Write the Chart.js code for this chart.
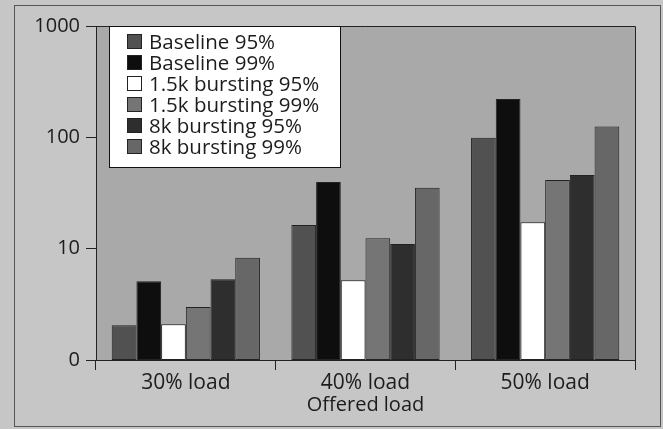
<!DOCTYPE html>
<html>
<head>
<meta charset="utf-8">
<script src="https://cdn.jsdelivr.net/npm/chart.js@4/dist/chart.umd.min.js"></script>
<style>
  body { margin: 0; background: #c6c6c6; }
  canvas { display: block; }
</style>
</head>
<body>
<canvas id="grafico" width="663" height="429"></canvas>
<script>
// categorias e séries (escala log)
const categorias = ['30% load', '40% load', '50% load'];
const rotulosSeries = ['Baseline 95%', 'Baseline 99%', '1.5k bursting 95%', '1.5k bursting 99%', '8k bursting 95%', '8k bursting 99%'];
const baseline95 = [2.05, 16.3, 99];
const baseline99 = [5.1, 39.7, 221];
const bursting15k95 = [2.1, 5.2, 17.3];
const bursting15k99 = [3.0, 12.4, 41.4];
const bursting8k95 = [5.3, 11.0, 45.9];
const bursting8k99 = [8.3, 35.3, 125];
const valoresTicksY = [1, 10, 100, 1000];
const rotulosTicksY = ['0', '10', '100', '1000'];

const coresSeries = ['#515151', '#0e0e0e', '#ffffff', '#757575', '#2e2e2e', '#676767'];
const corTexto = '#1c1c1c';

// fundo, moldura e área do gráfico
const fundoPlugin = {
    id: 'fundo',
    beforeDraw(chart) {
        const ctx = chart.ctx;
        const a = chart.chartArea;
        ctx.save();
        ctx.fillStyle = '#c6c6c6';
        ctx.fillRect(0, 0, chart.width, chart.height);
        ctx.strokeStyle = '#555';
        ctx.lineWidth = 1;
        ctx.strokeRect(14.5, 5.5, 646, 421);
        ctx.fillStyle = '#a9a9a9';
        ctx.fillRect(a.left, a.top, a.right - a.left, a.bottom - a.top);
        ctx.strokeStyle = '#222';
        ctx.beginPath();
        ctx.moveTo(a.left, a.top + 0.5);
        ctx.lineTo(a.right + 0.5, a.top + 0.5);
        ctx.lineTo(a.right + 0.5, a.bottom + 10);
        ctx.stroke();
        ctx.restore();
    }
};

// legenda dentro da área do gráfico, com caixa branca
const legendaPlugin = {
    id: 'legendaCaixa',
    afterDatasetsDraw(chart) {
        const ctx = chart.ctx;
        const x0 = 109.5, y0 = 26.5, w = 231, h = 141;
        ctx.save();
        ctx.fillStyle = '#fff';
        ctx.fillRect(x0, y0, w, h);
        ctx.strokeStyle = '#111';
        ctx.lineWidth = 1;
        ctx.strokeRect(x0, y0, w, h);
        ctx.font = '20.5px "Open Sans"';
        ctx.textBaseline = 'middle';
        chart.data.datasets.forEach((ds, i) => {
            const cy = 42 + i * 21;
            ctx.fillStyle = ds.backgroundColor;
            ctx.fillRect(127.5, cy - 7.5, 14, 14);
            ctx.strokeStyle = '#222';
            ctx.strokeRect(127.5, cy - 7.5, 14, 14);
            ctx.fillStyle = corTexto;
            ctx.fillText(ds.label, 149, cy + 1);
        });
        ctx.restore();
    }
};

const seriesValores = [baseline95, baseline99, bursting15k95, bursting15k99, bursting8k95, bursting8k99];

new Chart(document.getElementById('grafico').getContext('2d'), {
    type: 'bar',
    data: {
        labels: categorias,
        datasets: seriesValores.map((valores, i) => ({
            label: rotulosSeries[i],
            data: valores,
            backgroundColor: coresSeries[i],
            borderColor: '#222',
            borderWidth: 1,
            borderSkipped: false,
            barPercentage: 1,
            categoryPercentage: 0.825
        }))
    },
    options: {
        responsive: false,
        animation: false,
        layout: { padding: { left: 14, top: 26, right: 28, bottom: 3 } },
        plugins: {
            legend: { display: false },
            tooltip: { enabled: false }
        },
        scales: {
            x: {
                grid: { offset: true, drawOnChartArea: false, tickLength: 10, color: '#222' },
                border: { display: true, color: '#222' },
                ticks: { color: corTexto, font: { family: 'Open Sans', size: 21 }, padding: 0 },
                title: {
                    display: true,
                    text: 'Offered load',
                    color: corTexto,
                    font: { family: 'Open Sans', size: 20 },
                    padding: { top: 0, bottom: 9 }
                },
                afterFit(scale) { scale.height = 66; }
            },
            y: {
                type: 'logarithmic',
                min: 1,
                max: 1000,
                grid: { drawOnChartArea: false, tickLength: 10, color: '#222' },
                border: { display: true, color: '#222' },
                afterBuildTicks(scale) {
                    scale.ticks = valoresTicksY.map(v => ({ value: v }));
                },
                ticks: {
                    color: corTexto,
                    font: { family: 'Open Sans', size: 20 },
                    padding: 6,
                    callback: (valor) => rotulosTicksY[valoresTicksY.indexOf(valor)]
                },
                afterFit(scale) { scale.width = 82; }
            }
        }
    },
    plugins: [fundoPlugin, legendaPlugin]
});
</script>
</body>
</html>
